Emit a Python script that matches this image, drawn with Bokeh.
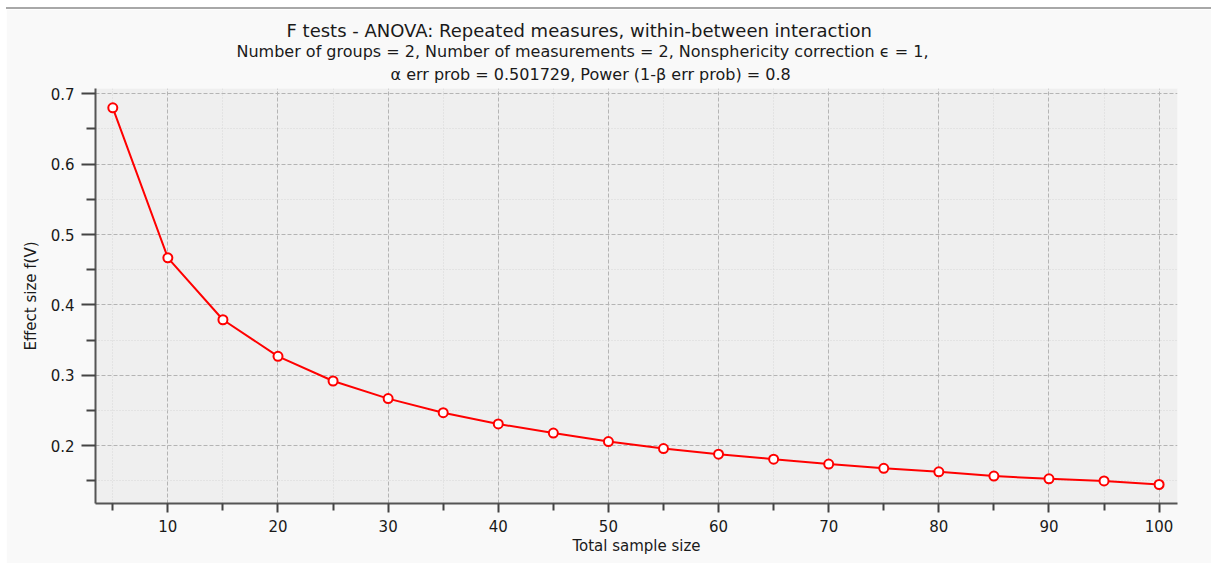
from bokeh.plotting import figure
from bokeh.models import FixedTicker, Title
from bokeh.embed import file_html
from bokeh.resources import INLINE

sample_size = [5, 10, 15, 20, 25, 30, 35, 40, 45, 50, 55, 60, 65, 70, 75, 80, 85, 90, 95, 100]
effect_size = [0.680, 0.467, 0.379, 0.327, 0.292, 0.267, 0.247, 0.231, 0.218, 0.206,
               0.196, 0.188, 0.181, 0.174, 0.168, 0.163, 0.157, 0.153, 0.150, 0.145]
x_major = [10, 20, 30, 40, 50, 60, 70, 80, 90, 100]
x_minor = [5, 15, 25, 35, 45, 55, 65, 75, 85, 95]
y_major = [0.2, 0.3, 0.4, 0.5, 0.6, 0.7]
y_minor = [0.15, 0.25, 0.35, 0.45, 0.55, 0.65]

title_main = "F tests - ANOVA: Repeated measures, within-between interaction"
title_sub1 = "Number of groups = 2, Number of measurements = 2, Nonsphericity correction \u03f5 = 1,"
title_sub2 = "\u03b1 err prob = 0.501729, Power (1-\u03b2 err prob) = 0.8"
x_label = "Total sample size"
y_label = "Effect size f(V)"

FONT = "DejaVu Sans"
TXT = "#1a1a1a"

p = figure(width=1205, height=556, output_backend="svg", toolbar_location=None,
           x_range=(3.43, 101.67), y_range=(0.118, 0.7075),
           min_border_left=89, min_border_right=34, min_border_top=79, min_border_bottom=62,
           background_fill_color="#efefef", border_fill_color="#f9f9f9",
           outline_line_color=None)
p.margin = (7, 0, 0, 6)
p.styles = {"border-top": "2px solid #a8a8a8"}

for ax, maj, mnr in ((p.xaxis[0], x_major, x_minor), (p.yaxis[0], y_major, y_minor)):
    ax.ticker = FixedTicker(ticks=maj, minor_ticks=mnr)
    ax.axis_line_color = "#555555"
    ax.axis_line_width = 2
    ax.major_tick_line_color = "#444444"
    ax.minor_tick_line_color = "#444444"
    ax.major_tick_line_width = 2
    ax.minor_tick_line_width = 2
    ax.major_tick_in = 0
    ax.minor_tick_in = 0
    ax.major_label_text_font = FONT
    ax.major_label_text_font_size = "15px"
    ax.major_label_text_color = TXT
    ax.axis_label_text_font = FONT
    ax.axis_label_text_font_size = "15px"
    ax.axis_label_text_font_style = "normal"
    ax.axis_label_text_color = TXT

p.xaxis[0].major_tick_out = 9
p.xaxis[0].minor_tick_out = 7
p.yaxis[0].major_tick_out = 14
p.yaxis[0].minor_tick_out = 9
p.xaxis[0].axis_label = x_label
p.yaxis[0].axis_label = y_label
p.xaxis[0].major_label_standoff = 7
p.yaxis[0].major_label_standoff = 7
p.xaxis[0].axis_label_standoff = 2
p.yaxis[0].axis_label_standoff = 8

for g in (p.xgrid[0], p.ygrid[0]):
    g.grid_line_color = "#b4b4b4"
    g.grid_line_width = 1
    g.grid_line_dash = "4 2"
    g.minor_grid_line_color = "#d6d6d6"
    g.minor_grid_line_width = 1
    g.minor_grid_line_dash = "1 2"

p.line(sample_size, effect_size, line_color="#ff0000", line_width=2)
p.scatter(sample_size, effect_size, size=9, marker="circle", line_color="#ff0000",
          line_width=2, fill_color="white")

for txt, fs, off, so in ((title_sub2, "16px", 295, 10), (title_sub1, "16px", 141, -6),
                         (title_main, "18px", 191, 4)):
    p.add_layout(Title(text=txt, align="left", offset=off, standoff=so, text_font=FONT,
                       text_font_size=fs, text_font_style="normal", text_color=TXT), "above")

open("out.html", "w").write(file_html(p, INLINE))
